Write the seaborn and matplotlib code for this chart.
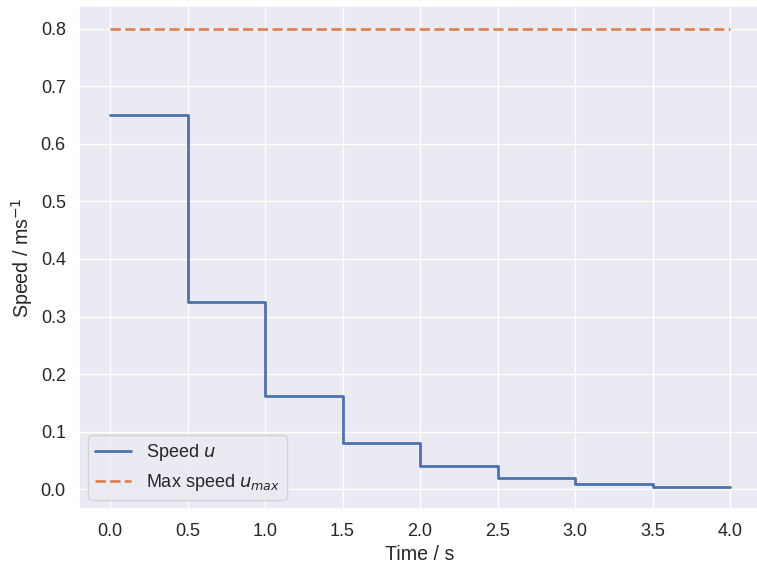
import numpy as np
import pandas as pd
import seaborn as sns
import matplotlib.pyplot as plt

# Data
time_s = [0.0, 0.5, 1.0, 1.5, 2.0, 2.5, 3.0, 3.5, 4.0]
speed_u = [0.65, 0.325, 0.1625, 0.08125, 0.040625, 0.0203, 0.0102, 0.0051, 0.0051]
u_max = [0.8, 0.8, 0.8, 0.8, 0.8, 0.8, 0.8, 0.8, 0.8]

sns.set_theme(style='darkgrid', font_scale=1.18, rc={'lines.linewidth': 2.0})
plt.rcParams['font.family'] = ['Liberation Sans', 'DejaVu Sans']
plt.rcParams['mathtext.fontset'] = 'dejavusans'

fig = plt.figure(figsize=(7.57, 5.66), dpi=100)
ax = fig.add_axes([79 / 757, 0.1, 682 / 757, 0.89])
sns.lineplot(x=time_s, y=speed_u, drawstyle='steps-post', label='Speed $u$', ax=ax)
sns.lineplot(x=time_s, y=u_max, linestyle='--', label='Max speed $u_{max}$', ax=ax)

ax.set_xlabel('Time / s')
ax.set_ylabel('Speed / ms$^{-1}$')
ax.set_xticks(np.arange(0, 4.01, 0.5))
ax.legend(loc='lower left')

fig.savefig('out.png')
